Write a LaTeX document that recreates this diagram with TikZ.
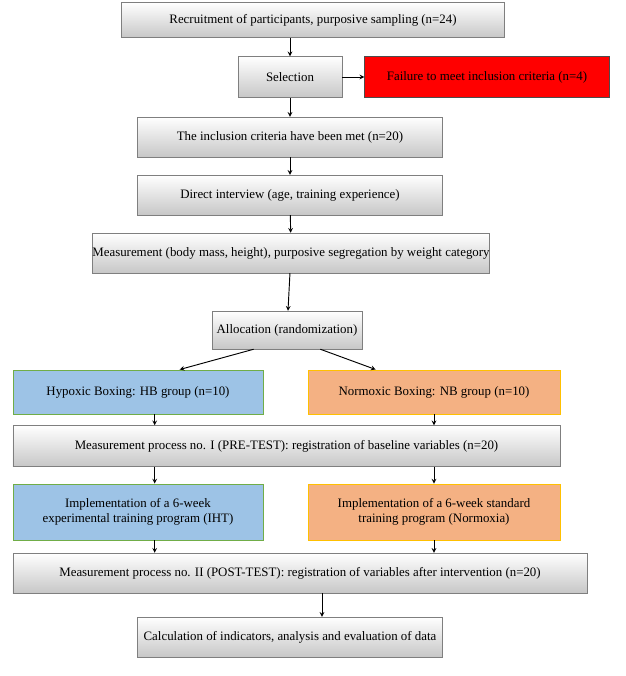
\documentclass[tikz,border=0pt]{standalone}
\usepackage{fontspec}
\setmainfont{Liberation Serif}
\usetikzlibrary{arrows, positioning}
\definecolor{mred}{HTML}{FF0000}
\definecolor{mblue}{HTML}{9DC3E6}
\definecolor{mgreen}{HTML}{70AD47}
\definecolor{morange}{HTML}{F4B183}
\definecolor{mgold}{HTML}{FFC000}
\definecolor{mgray}{HTML}{7F7F7F}
\tikzstyle{stage} = [rectangle, draw = mgray, top color = white, bottom color = black!22, text centered, font=\fontsize{11}{13}\selectfont, inner sep = 0pt]
\tikzstyle{reject} = [rectangle, draw = black!70, fill = mred, text centered, font=\fontsize{11}{13}\selectfont, inner sep = 0pt]
\tikzstyle{hypo} = [rectangle, draw = mgreen, thick, fill = mblue, text centered, font=\fontsize{11}{13}\selectfont, inner sep = 0pt]
\tikzstyle{normo} = [rectangle, draw = mgold, thick, fill = morange, text centered, font=\fontsize{11}{13}\selectfont, inner sep = 0pt]
\tikzstyle{cable} = [thick, ->, >=stealth]
\begin{document}
\begin{tikzpicture}[x=0.03cm, y=-0.03cm, align=center]
  \useasboundingbox (0,0) rectangle (626,676);
  \node (rec) [stage, minimum width = 11.49cm, minimum height = 1.05cm] at (313,20) {Recruitment of participants, purposive sampling (n=24)};
  \node (sel) [stage, minimum width = 3.12cm, minimum height = 1.23cm] at (290,77) {Selection};
  \node (fail) [reject, minimum width = 7.35cm, minimum height = 1.23cm] at (487,77) {Failure to meet inclusion criteria (n=4)};
  \node (inc) [stage, minimum width = 9.15cm, minimum height = 1.2cm] at (290,137) {The inclusion criteria have been met (n=20)};
  \node (int) [stage, minimum width = 9.15cm, minimum height = 1.2cm] at (290,195) {Direct interview (age, training experience)};
  \node (meas) [stage, minimum width = 10.86cm, minimum height = 1.2cm] at (291,253) {Measurement (body mass, height), purposive segregation by weight category};
  \node (alloc) [stage, minimum width = 4.5cm, minimum height = 1.14cm] at (287,330) {Allocation (randomization)};
  \node (hb) [hypo, minimum width = 7.5cm, minimum height = 1.32cm] at (138,392) {Hypoxic Boxing: HB group (n=10)};
  \node (nb) [normo, minimum width = 7.56cm, minimum height = 1.32cm] at (434,392) {Normoxic Boxing: NB group (n=10)};
  \node (pre) [stage, minimum width = 16.41cm, minimum height = 1.23cm] at (286.5,446) {Measurement process no. I (PRE-TEST): registration of baseline variables (n=20)};
  \node (iht) [hypo, minimum width = 7.5cm, minimum height = 1.68cm] at (138,512) {Implementation of a 6-week\\experimental training program (IHT)};
  \node (std) [normo, minimum width = 7.56cm, minimum height = 1.68cm] at (434,512) {Implementation of a 6-week standard\\training program (Normoxia)};
  \node (post) [stage, minimum width = 17.22cm, minimum height = 1.2cm] at (300,573) {Measurement process no. II (POST-TEST): registration of variables after intervention (n=20)};
  \node (calc) [stage, minimum width = 9.15cm, minimum height = 1.2cm] at (290,637) {Calculation of indicators, analysis and evaluation of data};
  \draw [cable] (rec.south -| sel) -- (sel);
  \draw [cable] (sel) -- (fail);
  \draw [cable] (sel) -- (inc);
  \draw [cable] (inc) -- (int);
  \draw [cable] (int) -- (meas);
  \draw [cable] (meas) -- (alloc);
  \draw [cable] ([xshift=-1.0cm]alloc.south) -- ([xshift=1.25cm]hb.north);
  \draw [cable] ([xshift=1.0cm]alloc.south) -- ([xshift=-1.75cm]nb.north);
  \draw [cable] ([xshift=0.5cm]hb.south) -- ([xshift=0.5cm]hb.south |- pre.north);
  \draw [cable] (nb.south) -- (nb.south |- pre.north);
  \draw [cable] ([xshift=0.5cm]hb.south |- pre.south) -- ([xshift=0.5cm]iht.north);
  \draw [cable] (nb.south |- pre.south) -- (std.north);
  \draw [cable] ([xshift=0.5cm]iht.south) -- ([xshift=0.5cm]iht.south |- post.north);
  \draw [cable] (std.south) -- (std.south |- post.north);
  \draw [cable] ([xshift=0.96cm]calc.north |- post.south) -- ([xshift=0.96cm]calc.north);
\end{tikzpicture}
\end{document}
